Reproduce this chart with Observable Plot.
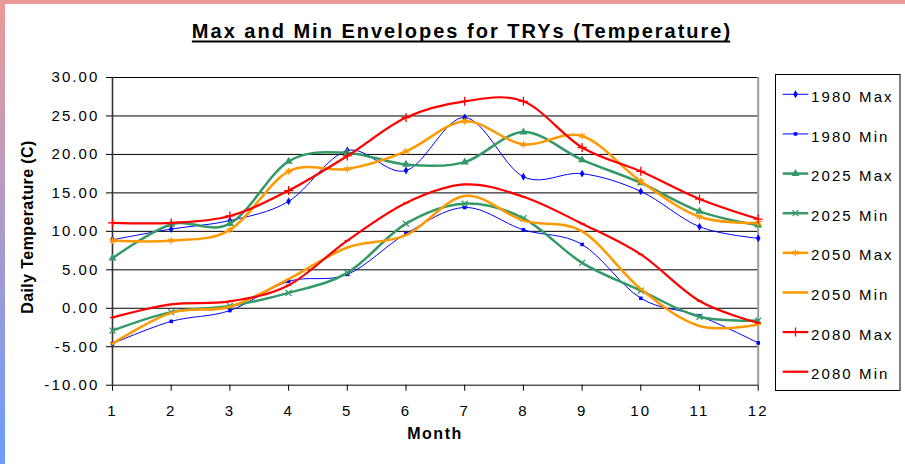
<!DOCTYPE html>
<html>
<head>
<meta charset="utf-8">
<script src="https://cdn.jsdelivr.net/npm/d3@7"></script>
<script src="https://cdn.jsdelivr.net/npm/@observablehq/plot@0.6"></script>
<style>
  body { margin: 0; background: #fff; }
  #wrap { position: relative; width: 905px; height: 464px; overflow: hidden; background: #fff;
          font-family: "Liberation Sans", Arial, sans-serif; }
  #wrap svg { position: absolute; left: 0; top: 0; }
  #plotbox text { letter-spacing: 2.1px; }
  .bar-top { position: absolute; left: 0; top: 0; width: 905px; height: 4px; background: #EC9A98; }
  .bar-left { position: absolute; left: 0; top: 0; width: 5px; height: 464px;
              background: linear-gradient(#EC9A98, #6A9BFF); }
</style>
</head>
<body>
<div id="wrap">
  <div id="plotbox"></div>
  <div class="bar-top"></div>
  <div class="bar-left"></div>
</div>
<script>
// Months on the x axis and tick values on the y axis
const months = [1, 2, 3, 4, 5, 6, 7, 8, 9, 10, 11, 12];
const yTicks = [-10, -5, 0, 5, 10, 15, 20, 25, 30];

// Daily temperature envelopes (°C) per month
const max1980 = [8.9, 10.3, 11.4, 13.9, 20.5, 17.9, 24.8, 17.1, 17.5, 15.2, 10.6, 9.1];
const min1980 = [-4.6, -1.7, -0.3, 3.5, 4.4, 9.7, 13.1, 10.2, 8.3, 1.3, -1.0, -4.5];
const max2025 = [6.5, 10.9, 11.0, 19.1, 20.2, 18.7, 19.0, 22.9, 19.3, 16.3, 12.6, 10.8];
const min2025 = [-2.9, -0.5, 0.3, 2.0, 4.6, 11.0, 13.6, 11.7, 5.9, 2.3, -1.1, -1.6];
const max2050 = [8.8, 8.8, 10.2, 17.8, 18.1, 20.4, 24.3, 21.3, 22.4, 16.5, 11.9, 11.1];
const min2050 = [-4.6, -0.6, 0.2, 3.8, 7.9, 9.5, 14.6, 11.4, 10.0, 2.5, -2.3, -2.1];
const max2080 = [11.1, 11.1, 12.0, 15.3, 19.8, 24.8, 26.9, 26.9, 20.9, 17.8, 14.2, 11.6];
const min2080 = [-1.2, 0.5, 0.9, 3.0, 8.8, 13.7, 16.1, 14.5, 11.0, 7.0, 0.95, -1.9];

const seriesNames = ["1980 Max", "1980 Min", "2025 Max", "2025 Min", "2050 Max", "2050 Min", "2080 Max", "2080 Min"];
const seriesValues = [max1980, min1980, max2025, min2025, max2050, min2050, max2080, min2080];

// A short horizontal dash used as a point marker
const dash = {
  draw(ctx, size) {
    const r = Math.sqrt(size / Math.PI) * 1.3;
    ctx.moveTo(-r, 0);
    ctx.lineTo(r, 0);
  }
};

// Line and marker styling per series
const seriesStyle = [
  {color: "#0000FF", width: 1,   symbol: "diamond",  d3sym: d3.symbolDiamond,  r: 2.4, filled: true},
  {color: "#0000FF", width: 1,   symbol: "square",   d3sym: d3.symbolSquare,   r: 2.0, filled: true},
  {color: "#339966", width: 2.5, symbol: "triangle", d3sym: d3.symbolTriangle, r: 3.0, filled: true},
  {color: "#339966", width: 2.5, symbol: "times",    d3sym: d3.symbolTimes,    r: 2.8, filled: false},
  {color: "#FF9900", width: 2.5, symbol: "asterisk", d3sym: d3.symbolAsterisk, r: 3.2, filled: false},
  {color: "#FF9900", width: 2.5, symbol: dash,       d3sym: dash,              r: 2.0, filled: false},
  {color: "#FF0000", width: 2.2, symbol: "plus",     d3sym: d3.symbolPlus,     r: 3.0, filled: false},
  {color: "#FF0000", width: 2.2, symbol: dash,       d3sym: dash,              r: 2.0, filled: false}
];

const rows = seriesNames.flatMap((name, i) =>
  seriesValues[i].map((v, j) => ({series: name, month: months[j], value: v})));

const seriesMarks = seriesNames.flatMap((name, i) => {
  const s = seriesStyle[i];
  const data = rows.filter(d => d.series === name);
  return [
    Plot.line(data, {x: "month", y: "value", stroke: s.color, strokeWidth: s.width, curve: "cardinal"}),
    Plot.dot(data, {
      x: "month", y: "value", symbol: s.symbol, r: s.r,
      fill: s.filled ? s.color : "none",
      stroke: s.filled ? "none" : s.color,
      strokeWidth: s.filled ? 0 : 1.3
    })
  ];
});

const chart = Plot.plot({
  width: 905,
  height: 464,
  marginLeft: 112,
  marginRight: 147.3,
  marginTop: 77,
  marginBottom: 79.3,
  style: {background: "transparent", color: "#000", fontFamily: "'Liberation Sans', Arial, sans-serif", fontSize: "15px"},
  x: {domain: [1, 12], label: null},
  y: {domain: [-10, 30], label: null},
  marks: [
    Plot.ruleY(yTicks.filter(t => t > -10), {stroke: "#000", strokeWidth: 1}),
    Plot.ruleX([12], {stroke: "#9a9a9a", strokeWidth: 2}),
    Plot.ruleY([-10], {stroke: "#000", strokeWidth: 1}),
    Plot.ruleX([1], {stroke: "#333", strokeWidth: 1.6}),
    Plot.axisX(months, {tickSize: 6, tickPadding: 14, fontSize: 15, tickFormat: d => String(d), label: null}),
    Plot.axisY(yTicks, {tickSize: 6, tickPadding: 7, fontSize: 15, tickFormat: d => d.toFixed(2), label: null}),
    ...seriesMarks
  ]
});
document.getElementById("plotbox").appendChild(chart);

// Title, axis titles and legend
const overlay = d3.select("#wrap").append("svg")
  .attr("width", 905).attr("height", 464)
  .style("font-family", "'Liberation Sans', Arial, sans-serif");

const title = overlay.append("text")
  .attr("x", 462).attr("y", 37.5)
  .attr("text-anchor", "middle")
  .style("font-size", "20px").style("font-weight", "bold").style("letter-spacing", "2px")
  .text("Max and Min Envelopes for TRYs (Temperature)");
const tb = title.node().getBBox();
overlay.append("rect")
  .attr("x", tb.x).attr("y", 40.5).attr("width", tb.width - 2).attr("height", 2)
  .attr("fill", "#000");

overlay.append("text")
  .attr("transform", "translate(33,227) rotate(-90)")
  .attr("text-anchor", "middle")
  .style("font-size", "16px").style("font-weight", "bold").style("letter-spacing", "0.4px")
  .text("Daily Temperature (C)");

overlay.append("text")
  .attr("x", 435).attr("y", 439)
  .attr("text-anchor", "middle")
  .style("font-size", "16px").style("font-weight", "bold").style("letter-spacing", "1.5px")
  .text("Month");

const legend = overlay.append("g");
legend.append("rect")
  .attr("x", 775.5).attr("y", 74.5).attr("width", 124.5).attr("height", 316)
  .attr("fill", "#fff").attr("stroke", "#000").attr("stroke-width", 1);

seriesNames.forEach((name, i) => {
  const s = seriesStyle[i];
  const y = 94.3 + i * 39.63;
  legend.append("line")
    .attr("x1", 782.7).attr("x2", 808.3).attr("y1", y).attr("y2", y)
    .attr("stroke", s.color).attr("stroke-width", s.width);
  legend.append("path")
    .attr("transform", `translate(795.5,${y})`)
    .attr("d", d3.symbol(s.d3sym, Math.PI * s.r * s.r)())
    .attr("fill", s.filled ? s.color : "none")
    .attr("stroke", s.filled ? "none" : s.color)
    .attr("stroke-width", s.filled ? 0 : 1.3);
  legend.append("text")
    .attr("x", 811).attr("y", y + 7.6)
    .style("font-size", "15px").style("letter-spacing", "2.1px")
    .text(name);
});
</script>
</body>
</html>
